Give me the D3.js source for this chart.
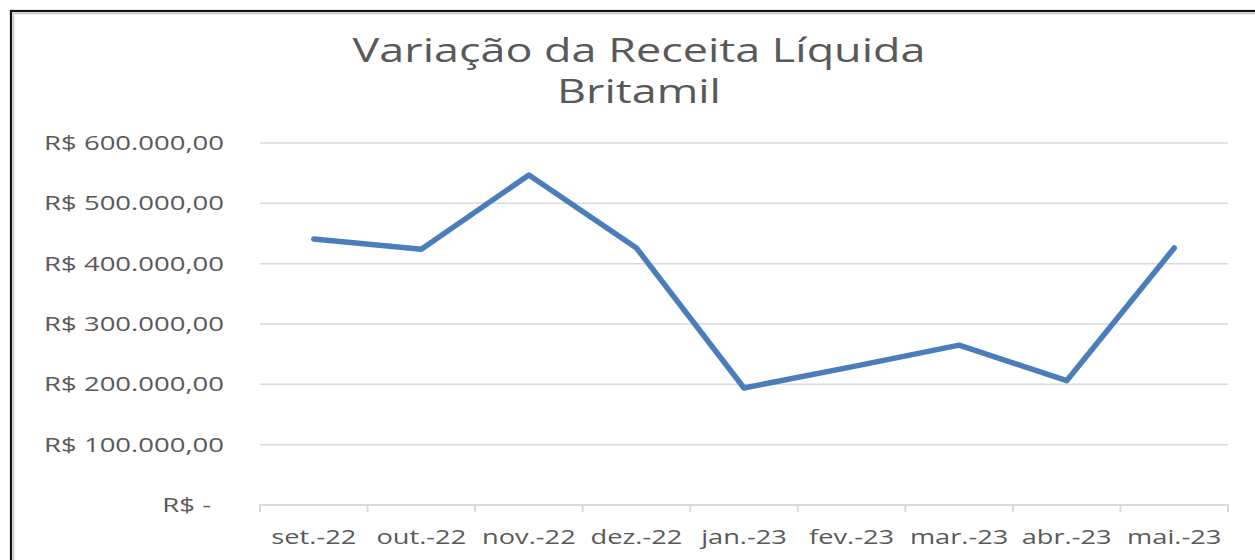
<!DOCTYPE html>
<html>
<head>
<meta charset="utf-8">
<script src="https://cdn.jsdelivr.net/npm/d3@7"></script>
<style>
  html, body { margin: 0; padding: 0; background: #fff; }
  svg { display: block; }
  text { font-family: "Open Sans", "Noto Sans", sans-serif; fill: #595959; }
</style>
</head>
<body>
<svg id="chart" width="1255" height="560"></svg>
<script>
// ---- data ----
const months = ["set.-22", "out.-22", "nov.-22", "dez.-22", "jan.-23", "fev.-23", "mar.-23", "abr.-23", "mai.-23"];
const receita = [441000, 424000, 547000, 426000, 194000, 229000, 265000, 206000, 426000];
const yTicks = [0, 100000, 200000, 300000, 400000, 500000, 600000];
const titleLines = ["Variação da Receita Líquida", "Britamil"];

// ---- layout ----
const W = 1255, H = 560;
const plot = { left: 260, right: 1228, top: 143, bottom: 505 };

const svg = d3.select("#chart");

// frame
svg.append("rect").attr("x", 0).attr("y", 0).attr("width", W).attr("height", H).attr("fill", "#fff");
svg.append("rect").attr("x", 13.5).attr("y", 13.5).attr("width", W + 20).attr("height", H + 20)
  .attr("fill", "none").attr("stroke", "#c8c8c8").attr("stroke-width", 1.5);
svg.append("rect").attr("x", 11).attr("y", 11).attr("width", W + 20).attr("height", H + 20)
  .attr("fill", "none").attr("stroke", "#111").attr("stroke-width", 2.2);

const ptBR = d3.formatLocale({ decimal: ",", thousands: ".", grouping: [3], currency: ["R$ ", ""] });
const fmt = ptBR.format(",.2f");

const x = d3.scaleBand().domain(months).range([plot.left, plot.right]).paddingInner(0).paddingOuter(0);
const y = d3.scaleLinear().domain([0, 600000]).range([plot.bottom, plot.top]);

// gridlines
svg.append("g").selectAll("line").data(yTicks.filter(d => d > 0)).join("line")
  .attr("x1", plot.left).attr("x2", plot.right)
  .attr("y1", d => y(d)).attr("y2", d => y(d))
  .attr("stroke", "#d9d9d9").attr("stroke-width", 1.5);

// y axis
const yAxis = svg.append("g").attr("transform", `translate(${plot.left},0)`)
  .call(d3.axisLeft(y).tickValues(yTicks).tickSize(0).tickPadding(36)
    .tickFormat(d => d === 0 ? "R$ -" : "R$ " + fmt(d)));
yAxis.select(".domain").remove();
yAxis.selectAll("text").style("font-size", "20px").attr("fill", "#595959");

// x axis
const xAxis = svg.append("g").attr("transform", `translate(0,${plot.bottom})`)
  .call(d3.axisBottom(x).tickSize(0).tickPadding(25));
xAxis.select(".domain").attr("stroke", "#d9d9d9").attr("stroke-width", 2)
  .attr("d", `M${plot.left},7V0H${plot.right}V7`);
xAxis.selectAll(".tick line").remove();
xAxis.selectAll("text").style("font-size", "20px").attr("fill", "#595959");
// tick marks at band boundaries
const bounds = months.map(m => x(m)).concat([plot.right]);
xAxis.append("g").selectAll("line").data(bounds).join("line")
  .attr("x1", d => d).attr("x2", d => d).attr("y1", 0).attr("y2", 7)
  .attr("stroke", "#d9d9d9").attr("stroke-width", 2);

// horizontal stretching of text to match reference proportions
function stretch(sel, refWidth, refText) {
  const probe = svg.append("text").style("font-size", sel.style("font-size")).text(refText);
  const w = probe.node().getComputedTextLength();
  probe.remove();
  return refWidth / w;
}
const sy = stretch(yAxis.select("text"), 180, "R$ 600.000,00");
yAxis.selectAll(".tick text").each(function(d) {
  const t = d3.select(this);
  const right = d === 0 ? -49 : -36;
  t.attr("x", right / sy).attr("transform", `scale(${sy},1)`);
});
const sx = stretch(xAxis.select("text"), 85, "set.-22");
xAxis.selectAll(".tick text").attr("transform", `scale(${sx},1)`);

// line
const line = d3.line().x((d, i) => x(months[i]) + x.bandwidth() / 2).y(d => y(d));
svg.append("path").datum(receita)
  .attr("d", line)
  .attr("fill", "none").attr("stroke", "#4a7ebb").attr("stroke-width", 5.5)
  .attr("stroke-linejoin", "round").attr("stroke-linecap", "round");

// title
const titleG = svg.append("g");
const tSize = 33;
const probeT = svg.append("text").style("font-size", tSize + "px").text(titleLines[0]);
const tw = probeT.node().getComputedTextLength();
probeT.remove();
const st = 573 / tw;
titleLines.forEach((t, i) => {
  titleG.append("text")
    .attr("transform", `translate(639,${i === 0 ? 62 : 103}) scale(${st},1)`)
    .attr("text-anchor", "middle")
    .style("font-size", tSize + "px")
    .attr("fill", "#595959")
    .text(t);
});
</script>
</body>
</html>
